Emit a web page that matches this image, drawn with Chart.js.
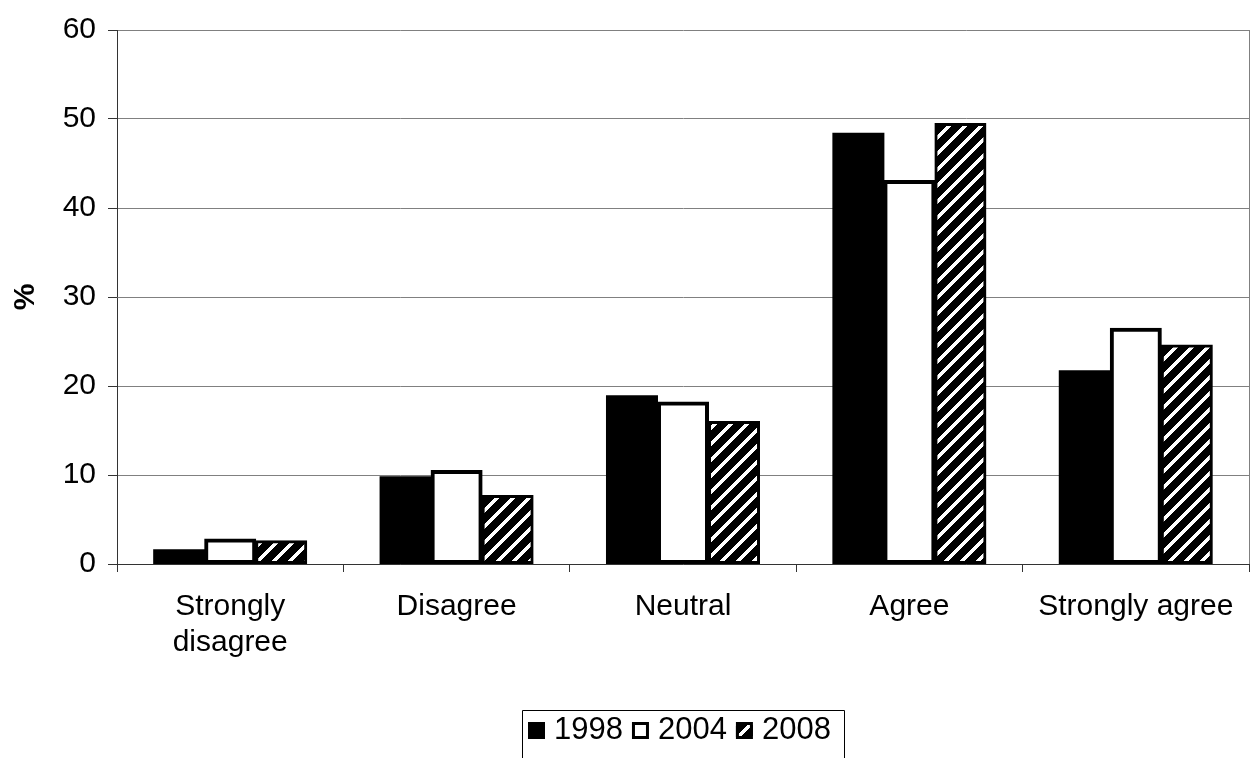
<!DOCTYPE html>
<html>
<head>
<meta charset="utf-8">
<script src="https://cdn.jsdelivr.net/npm/chart.js@4"></script>
<style>
  html, body { margin: 0; padding: 0; background: #fff; }
  #wrap { width: 1257px; height: 758px; position: relative; }
</style>
</head>
<body>
<div id="wrap"><canvas id="myChart"></canvas></div>
<script>
/* Datos del gráfico */
const categories = [["Strongly", "disagree"], "Disagree", "Neutral", "Agree", "Strongly agree"];
const years = ["1998", "2004", "2008"];
const values1998 = [1.6, 9.8, 18.9, 48.4, 21.7];
const values2004 = [2.8, 10.5, 18.2, 43.1, 26.5];
const values2008 = [2.6, 7.7, 16.0, 49.5, 24.6];
const yTicks = [0, 10, 20, 30, 40, 50, 60];

const FONT = "'Liberation Sans', Arial, sans-serif";
const ctx = document.getElementById("myChart");

/* Trama de rayas diagonales (/) para la serie 2008 */
const makeHatch = () => {
  const s = 16, w = 5;
  const c = document.createElement("canvas");
  c.width = s;
  c.height = s;
  const g = c.getContext("2d");
  const img = g.createImageData(s, s);
  for (let y = 0; y < s; y++) {
    for (let x = 0; x < s; x++) {
      const v = (x + y) % s < w ? 255 : 0;
      const i = (y * s + x) * 4;
      img.data[i] = v;
      img.data[i + 1] = v;
      img.data[i + 2] = v;
      img.data[i + 3] = 255;
    }
  }
  g.putImageData(img, 0, 0);
  return g.createPattern(c, "repeat");
};
const hatch = makeHatch();

/* Borde derecho del área de trazado */
const plotBorder = {
  id: "plotBorder",
  beforeDatasetsDraw(chart) {
    const a = chart.chartArea;
    const c = chart.ctx;
    c.save();
    c.strokeStyle = "#808080";
    c.lineWidth = 1;
    c.beginPath();
    c.moveTo(a.right + 0.5, a.top);
    c.lineTo(a.right + 0.5, a.bottom);
    c.stroke();
    c.restore();
  },
};

/* Leyenda dibujada a mano con marco */
const boxLegend = {
  id: "boxLegend",
  afterDraw(chart) {
    const c = chart.ctx;
    const left = 522, right = 844, top = 710;
    c.save();
    c.strokeStyle = "#000";
    c.lineWidth = 1;
    c.beginPath();
    c.moveTo(left + 0.5, 758);
    c.lineTo(left + 0.5, top + 0.5);
    c.lineTo(right + 0.5, top + 0.5);
    c.lineTo(right + 0.5, 758);
    c.stroke();
    c.font = "31px " + FONT;
    c.textBaseline = "alphabetic";
    let x = 528;
    const base = 739;
    chart.data.datasets.forEach((ds) => {
      c.fillStyle = ds.backgroundColor;
      c.fillRect(x, base - 17, 17, 17);
      c.strokeStyle = "#000";
      c.lineWidth = 3;
      c.strokeRect(x + 1.5, base - 15.5, 14, 14);
      x += 26;
      c.fillStyle = "#000";
      c.fillText(ds.label, x, base);
      x += c.measureText(ds.label).width + 9;
    });
    c.restore();
  },
};

const barStyle = {
  borderColor: "#000",
  borderSkipped: false,
  inflateAmount: 0.5,
  categoryPercentage: 0.676,
  barPercentage: 1,
};

const config = {
  type: "bar",
  data: {
    labels: categories,
    datasets: [
      { label: years[0], data: values1998, backgroundColor: "#000", borderWidth: 0, ...barStyle },
      { label: years[1], data: values2004, backgroundColor: "#fff", borderWidth: 4, ...barStyle },
      { label: years[2], data: values2008, backgroundColor: hatch, borderWidth: 3, ...barStyle },
    ],
  },
  options: {
    responsive: true,
    maintainAspectRatio: false,
    animation: false,
    devicePixelRatio: 1,
    layout: { padding: { top: 30, right: 8, left: 0, bottom: 0 } },
    plugins: {
      legend: { display: false },
      tooltip: { enabled: false },
    },
    scales: {
      x: {
        afterFit: (scale) => { scale.height = 194; },
        grid: {
          offset: true,
          drawOnChartArea: false,
          drawTicks: true,
          tickLength: 8,
          tickColor: "#333",
        },
        border: { color: "#333", width: 1 },
        ticks: {
          color: "#000",
          padding: 17,
          maxRotation: 0,
          autoSkip: false,
          font: { family: FONT, size: 30, lineHeight: 1.2 },
        },
      },
      y: {
        min: 0,
        max: 60,
        afterFit: (scale) => { scale.width = 117; },
        afterBuildTicks: (scale) => { scale.ticks = yTicks.map((v) => ({ value: v })); },
        grid: {
          color: "#808080",
          lineWidth: 1,
          drawTicks: true,
          tickLength: 9,
          tickColor: "#333",
        },
        border: { color: "#333", width: 1 },
        ticks: {
          color: "#000",
          padding: 12,
          font: { family: FONT, size: 30 },
        },
        title: {
          display: true,
          text: "%",
          color: "#000",
          padding: { top: 8, bottom: 0 },
          font: { family: FONT, size: 30, weight: "bold" },
        },
      },
    },
  },
  plugins: [plotBorder, boxLegend],
};

let myChart = new Chart(ctx, config);
</script>
</body>
</html>
